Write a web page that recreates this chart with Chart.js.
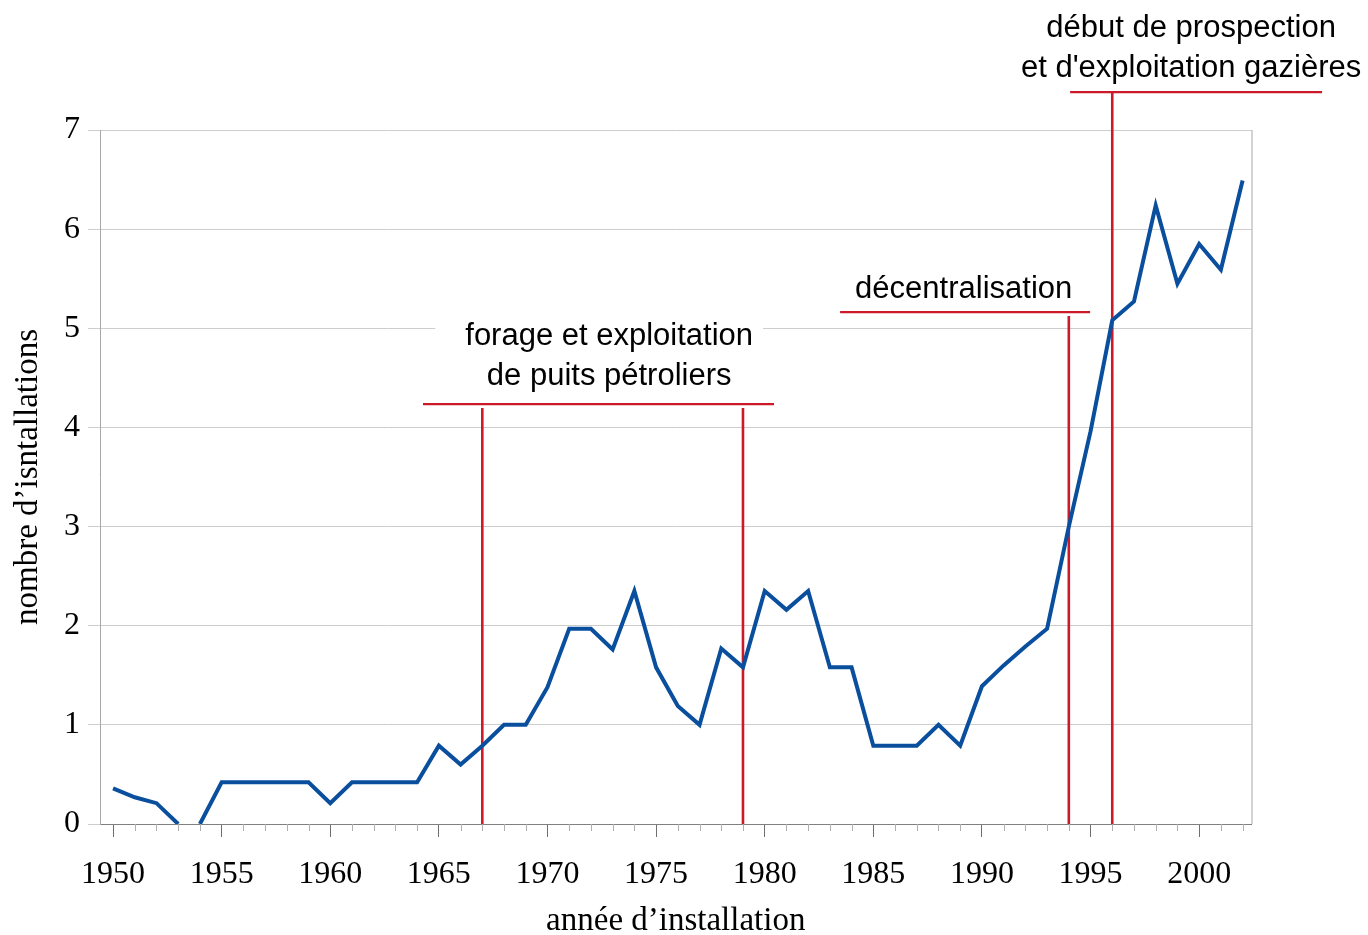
<!DOCTYPE html>
<html><head><meta charset="utf-8">
<script src="https://cdn.jsdelivr.net/npm/chart.js@4/dist/chart.umd.min.js"></script>
<style>html,body{margin:0;padding:0;background:#fff}</style>
</head><body>
<canvas id="c" width="1368" height="935"></canvas>
<script>
const years = [1950,1951,1952,1953,1954,1955,1956,1957,1958,1959,1960,1961,1962,1963,1964,1965,1966,1967,1968,1969,1970,1971,1972,1973,1974,1975,1976,1977,1978,1979,1980,1981,1982,1983,1984,1985,1986,1987,1988,1989,1990,1991,1992,1993,1994,1995,1996,1997,1998,1999,2000,2001,2002];
const installations = [0.36,0.27,0.21,0,0,0.42,0.42,0.42,0.42,0.42,0.21,0.42,0.42,0.42,0.42,0.79,0.60,0.79,1.0,1.0,1.38,1.97,1.97,1.76,2.35,1.58,1.19,1.0,1.77,1.58,2.35,2.16,2.35,1.58,1.58,0.79,0.79,0.79,1.0,0.79,1.39,1.6,1.79,1.97,3.0,3.96,5.08,5.27,6.24,5.45,5.85,5.59,6.49];
const yTickValues = [0,1,2,3,4,5,6,7];
const xTitle = 'année d’installation';
const yTitle = 'nombre d’isntallations';
const forageLabel = ['forage et exploitation','de puits pétroliers'];
const decentLabel = ['décentralisation'];
const gazLabel = ['début de prospection',"et d'exploitation gazières"];
const eventYears = [1967, 1979, 1994, 1996];

const notes = [
  {lines: forageLabel, cx: 1972.84, base: [4.83, 4.43], bracket: [1964.27, 1980.43, 4.236], verticals: [[eventYears[0], 4.196],[eventYears[1], 4.196]], bg: true},
  {lines: decentLabel, cx: 1989.16, base: [5.306], bracket: [1983.47, 1994.98, 5.164], verticals: [[eventYears[2], 5.124]], bg: false},
  {lines: gazLabel, cx: 1999.63, base: [7.938, 7.535], bracket: [1994.06, 2005.66, 7.383], verticals: [[eventYears[3], 7.383]], bg: false}
];

const RED = '#cc1a2b';
const notesPlugin = {
  id: 'notes',
  beforeDatasetsDraw(chart) {
    const {ctx, chartArea, scales: {x, y}} = chart;
    ctx.save();
    ctx.strokeStyle = '#a8a8a8';
    ctx.lineWidth = 1;
    ctx.beginPath();
    ctx.moveTo(chartArea.right + 0.5, chartArea.top);
    ctx.lineTo(chartArea.right + 0.5, chartArea.bottom);
    ctx.stroke();
    ctx.strokeStyle = '#b0b0b0';
    years.forEach(v => {
      if (v % 5 !== 0) {
        const px = Math.round(x.getPixelForValue(v)) + 0.5;
        ctx.beginPath();
        ctx.moveTo(px, chartArea.bottom);
        ctx.lineTo(px, chartArea.bottom + 7);
        ctx.stroke();
      }
    });
    ctx.font = '31px "Liberation Sans", Arial, sans-serif';
    ctx.textAlign = 'center';
    ctx.textBaseline = 'alphabetic';
    notes.forEach(n => {
      const cx = x.getPixelForValue(n.cx);
      if (n.bg) {
        const w = Math.max(...n.lines.map(t => ctx.measureText(t).width)) + 40;
        const top = y.getPixelForValue(n.base[0]) - 26;
        const bot = y.getPixelForValue(n.base[n.base.length - 1]) + 10;
        ctx.fillStyle = '#fff';
        ctx.fillRect(cx - w / 2 - 10, top, w, bot - top);
      }
      ctx.fillStyle = '#000';
      n.lines.forEach((t, i) => ctx.fillText(t, cx, y.getPixelForValue(n.base[i])));
      ctx.strokeStyle = RED;
      ctx.lineWidth = 2.2;
      ctx.beginPath();
      ctx.moveTo(x.getPixelForValue(n.bracket[0]), y.getPixelForValue(n.bracket[2]));
      ctx.lineTo(x.getPixelForValue(n.bracket[1]), y.getPixelForValue(n.bracket[2]));
      ctx.stroke();
      ctx.lineWidth = 2.6;
      n.verticals.forEach(([yr, top]) => {
        const px = x.getPixelForValue(yr);
        ctx.beginPath();
        ctx.moveTo(px, y.getPixelForValue(top));
        ctx.lineTo(px, y.getPixelForValue(0));
        ctx.stroke();
      });
    });
    ctx.restore();
  }
};

new Chart(document.getElementById('c'), {
  type: 'line',
  data: {
    datasets: [{
      data: years.map((yr, i) => ({x: yr, y: installations[i]})),
      borderColor: '#0a4f9e',
      borderWidth: 4,
      pointRadius: 0,
      tension: 0,
      fill: false,
      segment: {
        borderColor: c => (c.p0.parsed.y === 0 && c.p1.parsed.y === 0) ? 'rgba(0,0,0,0)' : undefined
      }
    }]
  },
  options: {
    responsive: false,
    animation: false,
    layout: {padding: {top: 130, right: 116.5, left: 0, bottom: 0}},
    plugins: {legend: {display: false}, tooltip: {enabled: false}},
    scales: {
      x: {
        type: 'linear',
        min: 1949.4,
        max: 2002.41,
        afterBuildTicks: s => { s.ticks = years.map(v => ({value: v})); },
        afterFit: s => { s.height = 111; },
        grid: {
          drawOnChartArea: false,
          drawTicks: true,
          tickLength: 13,
          tickColor: c => (c.tick && c.tick.value % 5 === 0) ? '#707070' : 'rgba(0,0,0,0)'
        },
        border: {display: true, color: '#808080', width: 1},
        ticks: {
          autoSkip: false,
          maxRotation: 0,
          minRotation: 0,
          padding: 18,
          color: '#000',
          font: {family: '"Liberation Serif", "Times New Roman", serif', size: 32},
          callback: v => (v % 5 === 0 ? String(v) : '')
        },
        title: {
          display: true,
          text: xTitle,
          color: '#000',
          font: {family: '"Liberation Serif", "Times New Roman", serif', size: 33, lineHeight: 0.82},
          padding: {top: 0, bottom: 0}
        }
      },
      y: {
        min: 0,
        max: 7,
        afterBuildTicks: s => { s.ticks = yTickValues.map(v => ({value: v})); },
        afterFit: s => { s.width = 100; },
        grid: {color: '#cdcdcd', lineWidth: 1, tickLength: 12, tickColor: '#cdcdcd'},
        border: {display: true, color: '#a8a8a8', width: 1},
        ticks: {
          padding: 8,
          color: '#000',
          font: {family: '"Liberation Serif", "Times New Roman", serif', size: 32}
        },
        title: {
          display: true,
          text: yTitle,
          color: '#000',
          font: {family: '"Liberation Serif", "Times New Roman", serif', size: 33, lineHeight: 1},
          padding: {top: 12, bottom: 0}
        }
      }
    }
  },
  plugins: [notesPlugin]
});
</script>
</body></html>
